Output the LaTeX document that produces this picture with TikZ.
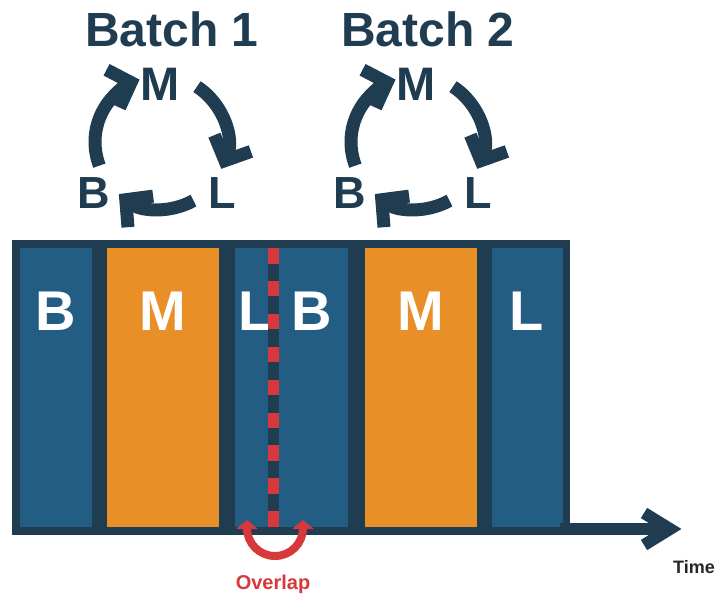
\documentclass[tikz,border=0pt]{standalone}
\usepackage{fontspec}
\setmainfont{Liberation Sans}
\usetikzlibrary{arrows.meta,calc}

\definecolor{navy}{HTML}{1F3C51}
\definecolor{boxblue}{HTML}{245D83}
\definecolor{boxorange}{HTML}{E98F28}
\definecolor{ovred}{HTML}{D7383B}

\tikzset{
  slot/.style={rectangle, inner sep=0pt, draw=none},
  blueslot/.style={slot, fill=boxblue},
  orangeslot/.style={slot, fill=boxorange},
  slotlabel/.style={anchor=base, inner sep=0pt, text=white,
    font=\fontsize{56}{56}\selectfont\bfseries},
  title/.style={anchor=base, inner sep=0pt, text=navy,
    font=\fontsize{48}{48}\selectfont\bfseries},
  cycletop/.style={anchor=base, inner sep=0pt, text=navy,
    font=\fontsize{47}{47}\selectfont\bfseries},
  cycleside/.style={anchor=base west, inner sep=0pt, text=navy,
    font=\fontsize{45}{45}\selectfont\bfseries},
  cyclearrow/.style={draw=navy, line width=13pt,
    -{Straight Barb[length=19pt,width=40pt,sharp,line cap=butt]}},
  overlaparrow/.style={draw=ovred, line width=8pt,
    {Triangle[length=9pt,width=21pt]}-{Triangle[length=9pt,width=21pt]}},
}

\begin{document}
\begin{tikzpicture}[x=1pt,y=1pt]
  \useasboundingbox (0,0) rectangle (718,-594);

  % frame and the phase slots
  \node[slot, fill=navy, minimum width=558pt, minimum height=295pt] (frame) at (291,-387.5) {};
  \node[blueslot,   minimum width=72pt,  minimum height=279pt] (b1)  at (56,-387.5)    {};
  \node[orangeslot, minimum width=112pt, minimum height=279pt] (m1)  at (163,-387.5)   {};
  \node[blueslot,   minimum width=113pt, minimum height=279pt] (lb)  at (291.5,-387.5) {};
  \node[orangeslot, minimum width=112pt, minimum height=279pt] (m2)  at (421,-387.5)   {};
  \node[blueslot,   minimum width=71pt,  minimum height=279pt] (l2)  at (527.5,-387.5) {};

  \node[slotlabel] (tb1) at (56,-330)  {B};
  \node[slotlabel] (tm1) at (163,-330) {M};
  \node[slotlabel] (tl1) at (256,-330) {L};
  \node[slotlabel] (tb2) at (312,-330) {B};
  \node[slotlabel] (tm2) at (421,-330) {M};
  \node[slotlabel] (tl2) at (527,-330) {L};

  % dashed boundary where the two batches overlap
  \coordinate (ovtop) at (273.5,-248);
  \coordinate (ovbot) at (273.5,-527);
  \draw[navy, line width=11pt] (ovtop) -- (ovbot);
  \draw[ovred, line width=11pt, dash pattern=on 15.5pt off 17.4pt] (ovtop) -- (ovbot);

  % time axis
  \coordinate (axisstart) at (560,-529);
  \coordinate (timetip) at (670,-529);
  \draw[navy, line width=12pt] (axisstart) -- (timetip);
  \draw[navy, line width=12pt, line join=miter]
    ($(timetip)+(-26,16)$) -- (timetip) -- ($(timetip)+(-26,-16)$);
  \node[anchor=base west, inner sep=0pt, text=black!85,
        font=\fontsize{18}{18}\selectfont\bfseries] (time) at (673,-573) {Time};

  % overlap marker
  \coordinate (ovl) at (247,-520);
  \coordinate (ovr) at (303,-520);
  \draw[overlaparrow] (ovl) -- ++(0,-8) arc[start angle=180, end angle=360, radius=28] -- (ovr);
  \node[anchor=base, inner sep=0pt, text=ovred,
        font=\fontsize{20}{20}\selectfont\bfseries] (overlap) at (273,-589) {Overlap};

  % B -> M -> L cycle for each batch
  \foreach \i/\dx in {1/0, 2/256} {
    \begin{scope}[xshift=\dx pt]
      \node[title] (title\i) at (172,-47) {Batch \i};
      \coordinate (c\i) at (161,-142);
      \node[cycletop]  (cm\i) at (160,-100) {M};
      \node[cycleside] (cb\i) at (77,-208)  {B};
      \node[cycleside] (cl\i) at (208,-208) {L};
      \draw[cyclearrow] ($(c\i)+(201:66)$) arc[start angle=201, end angle=109, radius=66];
      \draw[cyclearrow] ($(c\i)+(57:66)$)  arc[start angle=57,  end angle=-24, radius=66];
      \draw[cyclearrow] ($(c\i)+(-61:67)$) arc[start angle=-61, end angle=-129, radius=67];
    \end{scope}
  }
\end{tikzpicture}
\end{document}
